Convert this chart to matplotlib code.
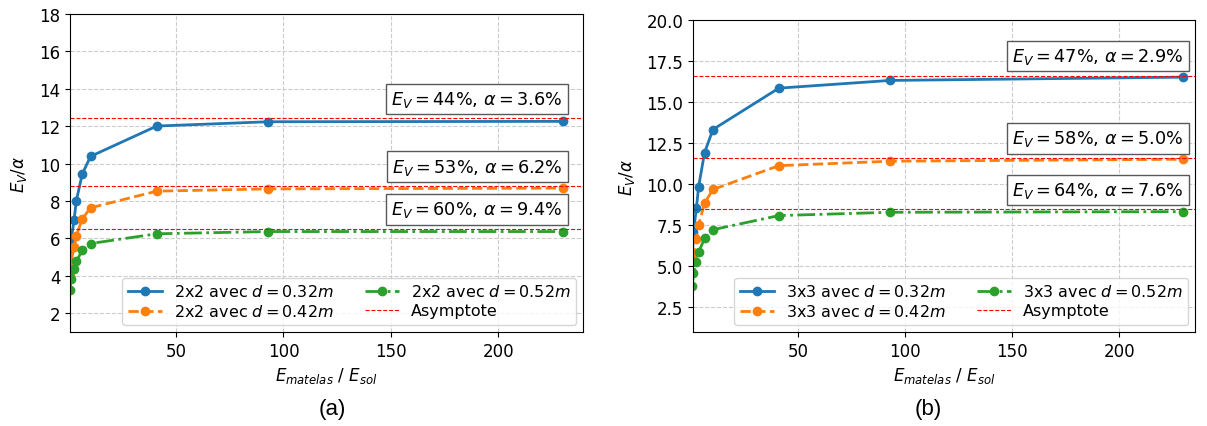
import numpy as np
import matplotlib
matplotlib.use('Agg')
import matplotlib.pyplot as plt

plt.rcParams['font.size'] = 12

# rapport des modules E_matelas / E_sol
rapport = [0.6, 1.1, 2.5, 3.5, 6.3, 10.2, 41, 93, 230]

# configuration 2x2
ev_2x2_032 = [4.65, 5.89, 6.98, 7.99, 9.45, 10.39, 12.01, 12.24, 12.26]
ev_2x2_042 = [3.98, 4.74, 5.54, 6.13, 7.05, 7.64, 8.53, 8.65, 8.69]
ev_2x2_052 = [3.23, 3.85, 4.35, 4.77, 5.36, 5.73, 6.25, 6.37, 6.37]
asym_2x2 = [12.42, 8.80, 6.52]
txt_2x2 = [r"$E_V = 44\%$, $\alpha = 3.6\%$",
           r"$E_V = 53\%$, $\alpha = 6.2\%$",
           r"$E_V = 60\%$, $\alpha = 9.4\%$"]

# configuration 3x3
ev_3x3_032 = [5.53, 7.09, 8.55, 9.83, 11.92, 13.33, 15.85, 16.32, 16.52]
ev_3x3_042 = [4.59, 5.69, 6.67, 7.50, 8.85, 9.68, 11.13, 11.40, 11.52]
ev_3x3_052 = [3.82, 4.59, 5.28, 5.85, 6.70, 7.23, 8.09, 8.29, 8.33]
asym_3x3 = [16.62, 11.60, 8.47]
txt_3x3 = [r"$E_V = 47\%$, $\alpha = 2.9\%$",
           r"$E_V = 58\%$, $\alpha = 5.0\%$",
           r"$E_V = 64\%$, $\alpha = 7.6\%$"]

distances = ['0.32', '0.42', '0.52']
couleurs = ['tab:blue', 'tab:orange', 'tab:green']
styles = ['-', '--', '-.']

W, H = 1207, 427
fig = plt.figure(figsize=(W / 100, H / 100), dpi=100)


def graphe(ax, nom, series, asym, textes, ylim, yticks, xlim):
    for serie, d, c, ls in zip(series, distances, couleurs, styles):
        ax.plot(rapport, serie, ls, color=c, marker='o', ms=6, lw=2,
                label=nom + r" avec $d = " + d + r"m$")
    for k, (a, t) in enumerate(zip(asym, textes)):
        ax.axhline(a, color='red', ls='--', lw=0.8,
                   label='Asymptote' if k == 0 else None)
        ax.annotate(t, (rapport[-1], a), xytext=(0, 14), textcoords='offset points',
                    ha='right', va='center', fontsize=12.7,
                    bbox=dict(boxstyle='square,pad=0.3', fc='white', ec='0.35', lw=1))
    ax.set_xlim(*xlim)
    ax.set_ylim(*ylim)
    ax.set_xticks([50, 100, 150, 200])
    ax.set_yticks(yticks)
    ax.grid(True, ls='--', color='0.8', lw=0.8)
    ax.set_xlabel(r"$E_{matelas}$ / $E_{sol}$")
    ax.set_ylabel(r"$E_V/\alpha$", labelpad=7)
    ax.legend(loc='lower right', ncol=2, fontsize=11.5, handlelength=2.1,
              columnspacing=2.0, handletextpad=0.75, borderpad=0.35,
              labelspacing=0.25, borderaxespad=0.45)


ax1 = fig.add_axes([70 / W, 94 / H, 513 / W, 318 / H])
graphe(ax1, '2x2', [ev_2x2_032, ev_2x2_042, ev_2x2_052], asym_2x2, txt_2x2,
       (1, 18), np.arange(2, 19, 2), (0.6, 239.5))

ax2 = fig.add_axes([693 / W, 94 / H, 502 / W, 312 / H])
graphe(ax2, '3x3', [ev_3x3_032, ev_3x3_042, ev_3x3_052], asym_3x3, txt_3x3,
       (1, 20), np.arange(2.5, 20.1, 2.5), (0.9, 235.4))
ax2.yaxis.set_major_formatter(matplotlib.ticker.FormatStrFormatter('%.1f'))

fig.text(332 / W, 1 - 410 / H, '(a)', ha='center', va='center',
         fontsize=16, family='Liberation Sans')
fig.text(928 / W, 1 - 410 / H, '(b)', ha='center', va='center',
         fontsize=16, family='Liberation Sans')

plt.savefig('out.png', dpi=100)
plt.close()
